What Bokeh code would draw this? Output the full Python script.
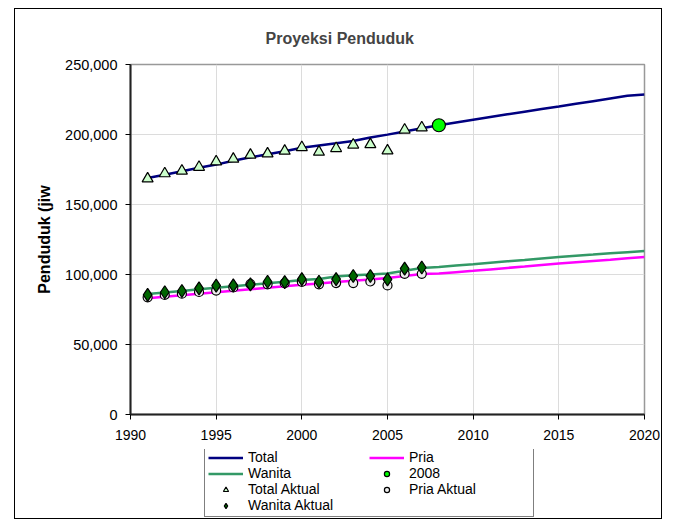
from bokeh.plotting import figure
from bokeh.layouts import column
from bokeh.models import (Range1d, FixedTicker, NumeralTickFormatter, Legend, LegendItem)
from bokeh.embed import file_html
from bokeh.resources import INLINE

# ---- data ----
years_proj = list(range(1991, 2021))
total_proj = [168900, 171300, 173700, 176200, 178500, 181300, 183700, 185900, 188000, 190600,
              192200, 193700, 195300, 197800, 199900, 202200, 204400, 206600, 208600, 210600,
              212500, 214400, 216300, 218200, 220000, 221900, 223800, 225700, 227600, 228500]
pria_proj = [83000, 84100, 85200, 86200, 87300, 88400, 89500, 90500, 91600, 92700,
             93600, 94600, 95600, 96500, 97500, 98900, 100300, 100700, 101650, 102600,
             103650, 104700, 105700, 106750, 107800, 108750, 109700, 110600, 111550, 112500]
wanita_proj = [86100, 87200, 88300, 89400, 90500, 91600, 92700, 93800, 94900, 96000,
               96800, 98600, 99400, 100000, 100700, 102700, 104700, 105400, 106350, 107300,
               108350, 109400, 110400, 111450, 112500, 113350, 114200, 115100, 115950, 116800]

years_actual = list(range(1991, 2008))
total_actual = [168400, 172100, 174000, 176700, 180600, 182500, 185400, 186300, 188200, 190800,
                187500, 190100, 192600, 192900, 188400, 203300, 204900]
wanita_actual = [85400, 87300, 88200, 90100, 92000, 92200, 92900, 94800, 94600, 96700,
                 94800, 96700, 98900, 98900, 96500, 104200, 105000]
pria_actual = [83700, 85400, 86300, 87500, 88500, 90800, 93200, 93000, 93900, 94800,
               93000, 93900, 93900, 95000, 92200, 100500, 100500]

year_2008 = [2008]
total_2008 = [206600]

x_ticks = [1990, 1995, 2000, 2005, 2010, 2015, 2020]
y_ticks = [0, 50000, 100000, 150000, 200000, 250000]

FONT = "Liberation Sans"

STY = dict(
    total=dict(line_color="#000080", line_width=2.5),
    wanita=dict(line_color="#339966", line_width=2.5),
    pria=dict(line_color="#FF00FF", line_width=2.5),
    tact=dict(marker="triangle", size=11, fill_color="#CCFFCC", line_color="black", line_width=1.2),
    pact=dict(marker="circle", size=9, fill_color="#EEEEEE", line_color="black", line_width=1.2),
    wact=dict(marker="diamond", size=13, fill_color="#006600", line_color="black", line_width=1.2),
    p2008=dict(marker="circle", size=13, fill_color="#00FF00", line_color="black", line_width=1.2),
)


def draw_series(fig):
    r = {}
    r["total"] = fig.line(years_proj, total_proj, **STY["total"])
    r["wanita"] = fig.line(years_proj, wanita_proj, **STY["wanita"])
    r["pria"] = fig.line(years_proj, pria_proj, **STY["pria"])
    r["tact"] = fig.scatter(years_actual, total_actual, **STY["tact"])
    r["pact"] = fig.scatter(years_actual, pria_actual, **STY["pact"])
    r["wact"] = fig.scatter(years_actual, wanita_actual, **STY["wact"])
    r["p2008"] = fig.scatter(year_2008, total_2008, **STY["p2008"])
    return r


# ---- main chart ----
p = figure(width=646, height=440, output_backend="svg", toolbar_location=None,
           x_range=Range1d(1990, 2020), y_range=Range1d(0, 250000),
           min_border_left=115, min_border_right=17, min_border_top=55, min_border_bottom=35,
           title="Proyeksi Penduduk")

p.title.text_font = FONT
p.title.text_font_size = "16px"
p.title.text_font_style = "bold"
p.title.align = "left"
p.title.offset = 135
p.title.standoff = 33
p.title.vertical_align = "middle"

p.background_fill_color = "white"
p.border_fill_color = "white"
p.outline_line_color = "#999999"
p.outline_line_width = 1.5

p.xgrid.ticker = FixedTicker(ticks=x_ticks)
p.ygrid.ticker = FixedTicker(ticks=y_ticks)
p.xgrid.grid_line_color = "#dcdcdc"
p.ygrid.grid_line_color = "#dcdcdc"

xa = p.xaxis[0]
xa.ticker = FixedTicker(ticks=x_ticks)
xa.major_tick_in = 0
xa.major_tick_out = 5
xa.minor_tick_line_color = None
xa.axis_line_width = 2
xa.axis_line_color = "#222222"
xa.major_label_text_font = FONT
xa.major_label_text_font_size = "14px"
xa.major_label_text_color = "black"
xa.major_label_standoff = 10

ya = p.yaxis[0]
ya.ticker = FixedTicker(ticks=y_ticks)
ya.formatter = NumeralTickFormatter(format="0,0")
ya.major_tick_in = 0
ya.major_tick_out = 5
ya.minor_tick_line_color = None
ya.axis_line_width = 2
ya.axis_line_color = "#222222"
ya.major_label_text_font = FONT
ya.major_label_text_font_size = "14.5px"
ya.major_label_text_color = "black"
ya.major_label_standoff = 8
ya.axis_label = "Penduduk (jiw"
ya.axis_label_text_font = FONT
ya.axis_label_text_font_size = "16px"
ya.axis_label_text_font_style = "bold"
ya.axis_label_text_color = "black"
ya.axis_label_standoff = 9

draw_series(p)

# ---- legend strip (series drawn off-view, only their legend glyphs show) ----
lg = figure(width=646, height=69, output_backend="svg", toolbar_location=None,
            x_range=Range1d(0, 1), y_range=Range1d(0, 1),
            x_axis_location=None, y_axis_location=None,
            min_border_left=0, min_border_right=0, min_border_top=0, min_border_bottom=0)
lg.outline_line_color = None
lg.xgrid.visible = False
lg.ygrid.visible = False
lr = draw_series(lg)

legend = Legend(items=[
    LegendItem(label="Total", renderers=[lr["total"]]),
    LegendItem(label="Wanita", renderers=[lr["wanita"]]),
    LegendItem(label="Total Aktual", renderers=[lr["tact"]]),
    LegendItem(label="Wanita Aktual", renderers=[lr["wact"]]),
    LegendItem(label="Pria", renderers=[lr["pria"]]),
    LegendItem(label="2008", renderers=[lr["p2008"]]),
    LegendItem(label="Pria Aktual", renderers=[lr["pact"]]),
], ncols=2)
legend.location = (74, 1)
legend.border_line_color = "black"
legend.border_line_width = 1
legend.background_fill_color = "white"
legend.background_fill_alpha = 1
legend.label_text_font = FONT
legend.label_text_font_size = "14px"
legend.label_text_color = "black"
legend.label_height = 13
legend.glyph_height = 13
legend.glyph_width = 35
legend.spacing = 0
legend.padding = 3
legend.margin = 0
legend.label_standoff = 5
legend.label_width = 121
lg.add_layout(legend, "center")

layout = column(p, lg, spacing=0)
layout.styles = {"margin-left": "14px", "margin-top": "8px", "border": "1px solid black"}

open("out.html", "w").write(file_html(layout, INLINE))
